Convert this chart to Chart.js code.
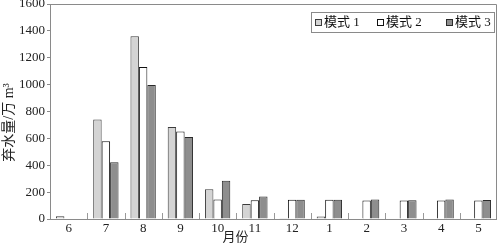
<!DOCTYPE html>
<html>
<head>
<meta charset="utf-8">
<script src="https://cdn.jsdelivr.net/npm/chart.js@4"></script>
<style>
    html, body { margin: 0; padding: 0; background: #fff; }
    #wrap { width: 497px; height: 247px; }
</style>
</head>
<body>
<div id="wrap"><canvas id="grafico"></canvas></div>
<script>
const meses = ['6', '7', '8', '9', '10', '11', '12', '1', '2', '3', '4', '5'];
const modo1 = [20, 740, 1360, 685, 222, 112, 5, 18, 0, 0, 0, 0];
const modo2 = [0, 578, 1132, 652, 145, 140, 143, 143, 138, 138, 137, 138];
const modo3 = [0, 422, 997, 610, 285, 168, 143, 143, 145, 140, 145, 142];
const nombres = ['模式 1', '模式 2', '模式 3'];
const yTicks = [0, 200, 400, 600, 800, 1000, 1200, 1400, 1600];
const tituloX = '月份';
const tituloY = '弃水量/万 m³';

const fuente = '"Liberation Serif", "Noto Sans CJK SC", serif';

// marco del area de trazado y marcas hacia dentro entre meses
const marco = {
    id: 'marco',
    afterDatasetsDraw(chart) {
        const ctx = chart.ctx;
        const a = chart.chartArea;
        const x = chart.scales.x;
        ctx.save();
        ctx.strokeStyle = '#8a8a8a';
        ctx.lineWidth = 1;
        ctx.beginPath();
        ctx.moveTo(a.left, a.top + 0.5);
        ctx.lineTo(a.right - 0.5, a.top + 0.5);
        ctx.lineTo(a.right - 0.5, a.bottom);
        ctx.stroke();
        ctx.strokeStyle = '#999';
        ctx.beginPath();
        for (let i = 1; i < meses.length; i++) {
            const px = Math.round((x.getPixelForTick(i - 1) + x.getPixelForTick(i)) / 2) + 0.5;
            ctx.moveTo(px, a.bottom);
            ctx.lineTo(px, a.bottom - 6);
        }
        ctx.stroke();
        ctx.restore();
    }
};

// titulos de los ejes, algo desplazados como en el original
const titulos = {
    id: 'titulos',
    afterDraw(chart) {
        const ctx = chart.ctx;
        const a = chart.chartArea;
        ctx.save();
        ctx.fillStyle = '#222';
        ctx.textAlign = 'center';
        ctx.textBaseline = 'middle';
        ctx.font = '13px ' + fuente;
        ctx.fillText(tituloX, (a.left + a.right) / 2 - 38, 238);
        ctx.font = '14px ' + fuente;
        ctx.translate(9, (a.top + a.bottom) / 2 + 11);
        ctx.rotate(-Math.PI / 2);
        ctx.fillText(tituloY, 0, 0);
        ctx.restore();
    }
};

// leyenda con recuadro dentro del grafico
const leyenda = {
    id: 'leyenda',
    afterDraw(chart) {
        const ctx = chart.ctx;
        ctx.save();
        ctx.font = '13px ' + fuente;
        ctx.textBaseline = 'middle';
        const bx = 311, by = 12, bw = 183, bh = 20;
        ctx.strokeStyle = '#8a8a8a';
        ctx.lineWidth = 1;
        ctx.strokeRect(bx + 0.5, by + 0.5, bw, bh);
        const inicios = [315, 377, 446];
        chart.data.datasets.forEach((ds, i) => {
            const sx = inicios[i];
            ctx.fillStyle = ds.backgroundColor;
            ctx.fillRect(sx, by + 7, 6, 6);
            ctx.strokeStyle = ds.borderColor;
            ctx.strokeRect(sx + 0.5, by + 7.5, 6, 6);
            ctx.fillStyle = '#111';
            ctx.fillText(ds.label, sx + 9, by + bh / 2 + 1);
        });
        ctx.restore();
    }
};

const ctx = document.getElementById('grafico').getContext('2d');
new Chart(ctx, {
    type: 'bar',
    data: {
        labels: meses,
        datasets: [
            {
                label: nombres[0],
                data: modo1,
                backgroundColor: '#d4d4d4',
                borderColor: '#3c3c3c',
                borderWidth: 1
            },
            {
                label: nombres[1],
                data: modo2,
                backgroundColor: '#ffffff',
                borderColor: '#111111',
                borderWidth: 1
            },
            {
                label: nombres[2],
                data: modo3,
                backgroundColor: '#8e8e8e',
                borderColor: '#2a2a2a',
                borderWidth: 1
            }
        ]
    },
    options: {
        responsive: true,
        maintainAspectRatio: false,
        animation: false,
        devicePixelRatio: 1,
        layout: { padding: { top: 4, right: 0, left: 0, bottom: 0 } },
        datasets: {
            bar: { categoryPercentage: 0.68, barPercentage: 1.0 }
        },
        plugins: {
            legend: { display: false },
            tooltip: { enabled: false }
        },
        scales: {
            x: {
                offset: true,
                grid: { display: false, drawTicks: false },
                border: { color: '#8a8a8a' },
                ticks: {
                    color: '#222',
                    font: { family: fuente, size: 13 },
                    padding: 2,
                    maxRotation: 0,
                    autoSkip: false
                },
                afterFit(scale) {
                    scale.height = 28;
                    scale.paddingLeft = 0;
                    scale.paddingRight = 0;
                }
            },
            y: {
                min: 0,
                max: 1600,
                afterBuildTicks(scale) {
                    scale.ticks = yTicks.map(v => ({ value: v }));
                },
                grid: {
                    drawOnChartArea: false,
                    tickLength: 3,
                    color: '#8a8a8a'
                },
                border: { color: '#8a8a8a' },
                ticks: {
                    color: '#222',
                    font: { family: fuente, size: 13 },
                    padding: 2,
                    callback: v => String(v)
                },
                afterFit(scale) {
                    scale.width = 50;
                    scale.paddingTop = 0;
                    scale.paddingBottom = 0;
                }
            }
        }
    },
    plugins: [marco, titulos, leyenda]
});
</script>
</body>
</html>
